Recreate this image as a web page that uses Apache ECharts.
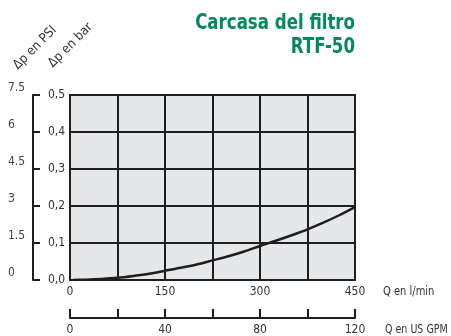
<!DOCTYPE html>
<html><head><meta charset="utf-8">
<script src="https://cdn.jsdelivr.net/npm/echarts@6/dist/echarts.min.js"></script>
<style>html,body{margin:0;padding:0;background:#fff}#c{width:451px;height:336px}</style>
</head><body><div id="c"></div>
<script>
const flowLmin = [5, 25, 50, 75, 100, 125, 150, 175, 200, 225, 250, 275, 300, 325, 350, 375, 400, 425, 450];
const dpBar    = [0, 0.001, 0.003, 0.006, 0.011, 0.017, 0.025, 0.033, 0.042, 0.053, 0.064, 0.077, 0.092, 0.106, 0.121, 0.137, 0.155, 0.175, 0.197];
const titleLines = ['Carcasa del filtro', 'RTF-50'];
const xName1 = 'Q en l/min';
const xName2 = 'Q en US GPM';
const yName1 = '\u0394p en PSI';
const yName2 = '\u0394p en bar';

const FONT = "'Liberation Sans Narrow','DejaVu Sans Condensed',sans-serif";
const INK = '#1e1e1e';
const chart = echarts.init(document.getElementById('c'));
chart.setOption({
  animation: false,
  grid: {left: 70, right: 96, top: 95, bottom: 56, show: true, backgroundColor: '#e6e7e8', borderColor: INK, borderWidth: 2},
  xAxis: [
    {type: 'value', min: 0, max: 450, interval: 75, position: 'bottom',
     axisLine: {show: false}, axisTick: {show: false},
     splitLine: {show: true, lineStyle: {color: INK, width: 2}},
     axisLabel: {margin: 6, fontFamily: FONT, fontSize: 12, color: '#333',
       formatter: v => (v % 150 === 0 ? String(v) : '')}},
    {type: 'value', min: 0, max: 120, interval: 20, position: 'bottom', offset: 38,
     axisLine: {show: true, onZero: false, lineStyle: {color: INK, width: 2}},
     axisTick: {show: true, inside: true, length: 9, lineStyle: {color: INK, width: 2}},
     splitLine: {show: false},
     axisLabel: {margin: 6, fontFamily: FONT, fontSize: 12, color: '#333',
       formatter: v => (v % 40 === 0 ? String(v) : '')}}
  ],
  yAxis: [
    {type: 'value', min: 0, max: 0.5, interval: 0.1, position: 'left', offset: 37,
     axisLine: {show: true, onZero: false, lineStyle: {color: INK, width: 2}},
     axisTick: {show: true, inside: true, length: 7, lineStyle: {color: INK, width: 2}},
     splitLine: {show: true, lineStyle: {color: INK, width: 2}},
     axisLabel: {inside: true, margin: 15, fontFamily: FONT, fontSize: 12, color: '#333',
       formatter: v => v.toFixed(1).replace('.', ',')}},
    {type: 'value', min: 0, max: 7.5, interval: 1.5, position: 'left', offset: 62,
     axisLine: {show: false, onZero: false}, axisTick: {show: false}, splitLine: {show: false},
     axisLabel: {inside: true, margin: 0, fontFamily: FONT, fontSize: 12, color: '#444',
       verticalAlign: 'bottom', lineHeight: 14, formatter: v => String(v)}}
  ],
  series: [{
    type: 'line', xAxisIndex: 0, yAxisIndex: 0, smooth: 0.3, showSymbol: false,
    lineStyle: {color: INK, width: 2.5},
    data: flowLmin.map((x, i) => [x, dpBar[i]])
  }],
  graphic: [
    {type: 'text', x: 355, y: 12, scaleX: 0.84, style: {text: titleLines[0], textAlign: 'right', textVerticalAlign: 'top',
      font: "bold 22px " + FONT, fill: '#008a5e'}},
    {type: 'text', x: 355, y: 36, scaleX: 0.84, style: {text: titleLines[1], textAlign: 'right', textVerticalAlign: 'top',
      font: "bold 22px " + FONT, fill: '#008a5e'}},
    {type: 'text', x: 383, y: 292, scaleX: 0.92, style: {text: xName1, textAlign: 'left', textVerticalAlign: 'middle',
      font: "12px " + FONT, fill: '#333'}},
    {type: 'text', x: 385, y: 330, scaleX: 0.88, style: {text: xName2, textAlign: 'left', textVerticalAlign: 'middle',
      font: "12px " + FONT, fill: '#333'}},
    {type: 'text', x: 20, y: 72, rotation: Math.PI / 4, style: {text: yName1, textAlign: 'left', textVerticalAlign: 'bottom',
      font: "13px " + FONT, fill: '#333'}},
    {type: 'text', x: 55, y: 70, rotation: Math.PI / 4, style: {text: yName2, textAlign: 'left', textVerticalAlign: 'bottom',
      font: "13px " + FONT, fill: '#333'}}
  ]
});
</script></body></html>
